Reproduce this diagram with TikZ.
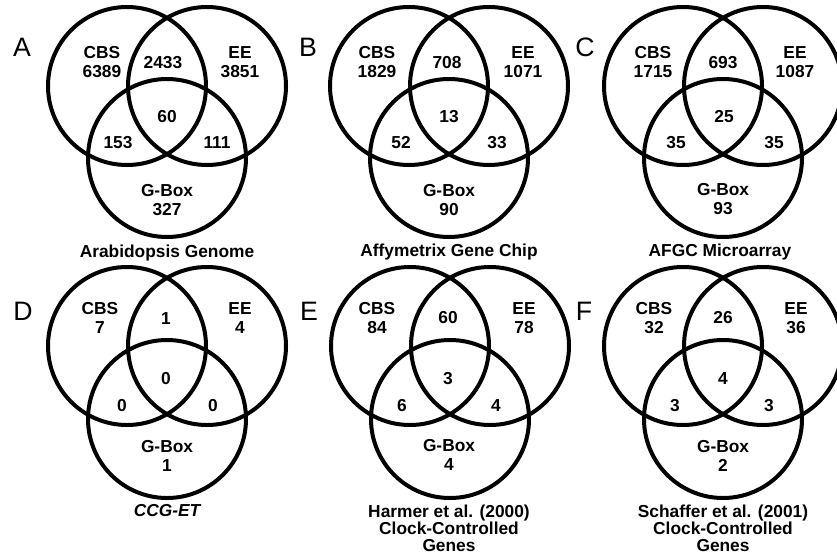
\documentclass[tikz,border=0pt]{standalone}
\usepackage{fontspec}
\setmainfont{Liberation Sans}
\usetikzlibrary{shapes.geometric}

\begin{document}
\begin{tikzpicture}[x=0.75pt,y=0.75pt,yscale=-1,xscale=1,
    venn/.style={draw, circle, line width=3pt, minimum size=118.5pt, inner sep=0pt},
    count/.style={inner sep=0.75pt, font=\fontsize{13}{14.2}\selectfont\bfseries, align=center},
    caption/.style={inner sep=0.75pt, font=\fontsize{13}{12.9}\selectfont\bfseries, align=center},
    panel/.style={inner sep=0.75pt, font=\fontsize{20}{22}\selectfont}]
\useasboundingbox (0,0) rectangle (837,553);

%Panel A
    \node [venn] (a-cbs) at (127,86) {};
    \node [venn] (a-ee) at (207,86) {};
    \node [venn] (a-gbox) at (167,158) {};
% Text Node
    \node [panel] (a-lbl) at (22,47) {A};
    \node [count] (a-c) at (102,62) {CBS\\6389};
    \node [count] (a-ce) at (163,63) {2433};
    \node [count] (a-e) at (240,62) {EE\\3851};
    \node [count] (a-all) at (167,117) {60};
    \node [count] (a-cg) at (118,143) {153};
    \node [count] (a-eg) at (217,143) {111};
    \node [count] (a-g) at (167,200) {G-Box\\327};
    \node [caption] (a-cap) at (167,253) {Arabidopsis Genome};

%Panel B
    \node [venn] (b-cbs) at (409,86) {};
    \node [venn] (b-ee) at (489,86) {};
    \node [venn] (b-gbox) at (449,158) {};
% Text Node
    \node [panel] (b-lbl) at (308,47) {B};
    \node [count] (b-c) at (377,62) {CBS\\1829};
    \node [count] (b-ce) at (447,63) {708};
    \node [count] (b-e) at (523,62) {EE\\1071};
    \node [count] (b-all) at (449,117) {13};
    \node [count] (b-cg) at (401,143) {52};
    \node [count] (b-eg) at (497,143) {33};
    \node [count] (b-g) at (449,200) {G-Box\\90};
    \node [caption] (b-cap) at (449,252) {Affymetrix Gene Chip};

%Panel C
    \node [venn] (c-cbs) at (683,86) {};
    \node [venn] (c-ee) at (763,86) {};
    \node [venn] (c-gbox) at (723,158) {};
% Text Node
    \node [panel] (c-lbl) at (585,47) {C};
    \node [count] (c-c) at (653,62) {CBS\\1715};
    \node [count] (c-ce) at (723,63) {693};
    \node [count] (c-e) at (795,62) {EE\\1087};
    \node [count] (c-all) at (724,117) {25};
    \node [count] (c-cg) at (676,143) {35};
    \node [count] (c-eg) at (774,143) {35};
    \node [count] (c-g) at (723,199) {G-Box\\93};
    \node [caption] (c-cap) at (720,252) {AFGC Microarray};

%Panel D
    \node [venn] (d-cbs) at (127,346) {};
    \node [venn] (d-ee) at (207,346) {};
    \node [venn] (d-gbox) at (167,419) {};
% Text Node
    \node [panel] (d-lbl) at (23,311) {D};
    \node [count] (d-c) at (100,318) {CBS\\7};
    \node [count] (d-ce) at (166,319) {1};
    \node [count] (d-e) at (240,318) {EE\\4};
    \node [count] (d-all) at (166,379) {0};
    \node [count] (d-cg) at (122,406) {0};
    \node [count] (d-eg) at (213,406) {0};
    \node [count] (d-g) at (167,456) {G-Box\\1};
    \node [caption, font=\fontsize{13}{12.9}\selectfont\bfseries\itshape] (d-cap) at (167,511) {CCG-ET};

%Panel E
    \node [venn] (e-cbs) at (410,346) {};
    \node [venn] (e-ee) at (490,346) {};
    \node [venn] (e-gbox) at (450,419) {};
% Text Node
    \node [panel] (e-lbl) at (309,311) {E};
    \node [count] (e-c) at (377,318) {CBS\\84};
    \node [count] (e-ce) at (448,318) {60};
    \node [count] (e-e) at (524,318) {EE\\78};
    \node [count] (e-all) at (448,379) {3};
    \node [count] (e-cg) at (402,406) {6};
    \node [count] (e-eg) at (496,406) {4};
    \node [count] (e-g) at (449,455) {G-Box\\4};
    \node [caption] (e-cap) at (449,528) {Harmer et al. (2000)\\Clock-Controlled\\Genes};

%Panel F
    \node [venn] (f-cbs) at (683,346) {};
    \node [venn] (f-ee) at (763,346) {};
    \node [venn] (f-gbox) at (723,419) {};
% Text Node
    \node [panel] (f-lbl) at (584,311) {F};
    \node [count] (f-c) at (654,318) {CBS\\32};
    \node [count] (f-ce) at (723,318) {26};
    \node [count] (f-e) at (796,318) {EE\\36};
    \node [count] (f-all) at (723,379) {4};
    \node [count] (f-cg) at (675,406) {3};
    \node [count] (f-eg) at (769,406) {3};
    \node [count] (f-g) at (723,456) {G-Box\\2};
    \node [caption] (f-cap) at (723,528) {Schaffer et al. (2001)\\Clock-Controlled\\Genes};

\end{tikzpicture}
\end{document}
